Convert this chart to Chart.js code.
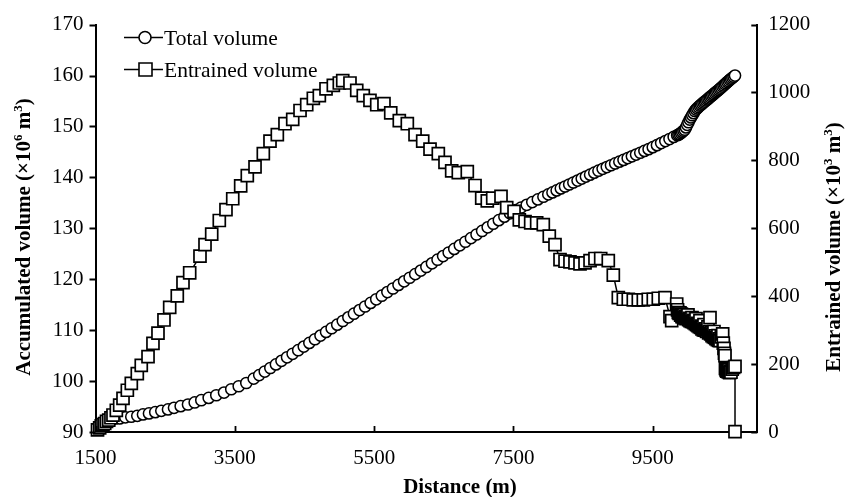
<!DOCTYPE html>
<html><head><meta charset="utf-8">
<script src="https://cdn.jsdelivr.net/npm/chart.js@4/dist/chart.umd.min.js"></script>
<style>html,body{margin:0;padding:0;background:#fff}canvas{display:block}</style>
</head><body>
<canvas id="c" width="845" height="497"></canvas>
<script>
// ---- data ----
const seriesNames = ['Total volume', 'Entrained volume'];
const xTicks = [1500, 3500, 5500, 7500, 9500];
const leftTicks = [90, 100, 110, 120, 130, 140, 150, 160, 170];
const rightTicks = [0, 200, 400, 600, 800, 1000, 1200];

const totalDistance = [1530,1579,1651,1751,1847,1928,2014,2100,2182,2268,2358,2445,2541,2627,2723,2828,2924,3019,3125,3234,3345,3449,3556,3665,3771,3850,3930,4010,4090,4170,4250,4330,4410,4490,4570,4650,4730,4810,4890,4970,5050,5130,5210,5290,5370,5450,5530,5610,5690,5770,5850,5930,6010,6090,6170,6250,6330,6410,6490,6570,6650,6730,6810,6890,6970,7050,7130,7210,7290,7370,7450,7530,7610,7690,7770,7850,7930,8000,8060,8120,8180,8240,8300,8360,8420,8480,8540,8600,8660,8720,8780,8840,8900,8960,9020,9080,9140,9200,9260,9320,9380,9440,9500,9560,9620,9680,9740,9800,9850,9868,9886,9904,9922,9940,9958,9976,9994,10012,10030,10048,10066,10084,10102,10120,10138,10156,10174,10192,10210,10228,10246,10264,10282,10300,10318,10336,10354,10372,10390,10408,10426,10444,10462,10480,10498,10516,10534,10552,10570,10588,10606,10624,10642,10660,10680];
const totalVolume = [90.5,91.3,92.0,92.48,92.67,92.87,92.99,93.18,93.45,93.65,93.90,94.16,94.43,94.74,95.07,95.40,95.80,96.24,96.69,97.22,97.74,98.39,98.98,99.62,100.48,101.17,101.87,102.57,103.27,103.97,104.67,105.36,106.06,106.77,107.49,108.21,108.93,109.65,110.37,111.08,111.80,112.52,113.23,113.94,114.64,115.35,116.06,116.76,117.47,118.18,118.88,119.59,120.29,121.00,121.70,122.41,123.12,123.83,124.54,125.24,125.95,126.66,127.36,128.07,128.78,129.48,130.19,130.89,131.60,132.28,132.95,133.55,134.08,134.61,135.14,135.67,136.20,136.66,137.05,137.44,137.83,138.21,138.60,138.99,139.37,139.76,140.15,140.53,140.92,141.31,141.67,142.02,142.38,142.73,143.08,143.43,143.78,144.13,144.48,144.84,145.19,145.54,145.93,146.33,146.73,147.13,147.53,147.94,148.27,148.39,148.51,148.71,148.93,149.14,149.36,149.81,150.32,150.83,151.35,151.78,152.20,152.61,153.03,153.31,153.56,153.81,154.06,154.27,154.48,154.69,154.89,155.10,155.31,155.51,155.72,155.93,156.13,156.34,156.55,156.75,156.96,157.17,157.38,157.60,157.82,158.04,158.27,158.49,158.71,158.93,159.15,159.35,159.56,159.76,159.99];

const entrainedDistance = [1529,1560,1583,1608,1632,1658,1690,1722,1751,1799,1847,1895,1957,2014,2100,2157,2254,2325,2397,2483,2565,2674,2756,2852,3000,3072,3168,3277,3373,3470,3584,3679,3790,3909,4005,4110,4220,4331,4436,4532,4627,4713,4809,4914,5000,5049,5153,5250,5344,5440,5537,5641,5738,5861,5976,6087,6197,6302,6421,6517,6613,6708,6837,6948,7044,7124,7202,7321,7403,7508,7584,7666,7747,7833,7928,8014,8096,8168,8240,8311,8383,8455,8527,8599,8670,8752,8861,8933,9005,9077,9148,9220,9292,9364,9435,9507,9579,9675,9747,9771,9843,9855,9866,9878,9890,9900,9910,9919,9930,9940,9948,9958,9968,9977,9987,9996,10005,10015,10025,10034,10044,10054,10063,10073,10083,10092,10102,10111,10120,10130,10140,10149,10159,10168,10177,10187,10197,10206,10216,10226,10235,10245,10255,10264,10274,10283,10292,10302,10311,10321,10330,10340,10350,10360,10369,10378,10388,10398,10407,10417,10427,10436,10446,10456,10465,10484,10503,10512,10522,10529,10536,10543,10552,10560,10565,10575,10584,10594,10603,10612,10622,10640,10660,10680,10680];
const entrainedVolume = [6,12,18,22,25,31,35,42,50,64,79,99,123,143,172,196,222,261,291,330,367,401,440,469,518,552,583,623,655,687,725,755,781,820,857,876,908,921,947,964,983,991,1011,1021,1028,1035,1028,1006,991,977,964,967,940,917,908,876,857,833,820,794,769,764,767,726,689,681,689,694,661,650,625,620,616,616,611,577,552,508,503,501,498,495,498,505,511,511,505,462,396,391,391,389,389,389,391,391,394,396,340,328,377,360,352,349,351,344,347,340,343,338,345,336,339,334,340,337,345,331,335,328,333,326,337,325,329,322,327,319,334,316,320,313,318,310,328,308,312,304,309,301,316,300,304,299,296,301,310,292,295,337,289,292,284,288,281,296,279,283,275,278,272,284,270,274,269,280,289,262,246,232,225,187,183,180,179,182,177,184,175,179,176,185,190,193,1];

// ---- presentation ----
const FONT = "'Liberation Serif','Times New Roman',serif";
const INK = '#000';

function drawRich(ctx, segs, size, bold) {
  const w = segs.reduce((a, s) => {
    ctx.font = (bold ? 'bold ' : '') + (s[1] ? size * 0.62 : size) + 'px ' + FONT;
    return a + ctx.measureText(s[0]).width;
  }, 0);
  let x = -w / 2;
  for (const s of segs) {
    const sz = s[1] ? size * 0.62 : size;
    ctx.font = (bold ? 'bold ' : '') + sz + 'px ' + FONT;
    ctx.fillText(s[0], x, s[1] ? -size * 0.38 : 0);
    x += ctx.measureText(s[0]).width;
  }
}

const titleLeft = [['Accumulated volume (\u00d710', 0], ['6', 1], [' m', 0], ['3', 1], [')', 0]];
const titleRight = [['Entrained volume (\u00d710', 0], ['3', 1], [' m', 0], ['3', 1], [')', 0]];
const titleX = [['Distance (m)', 0]];

const decor = {
  id: 'decor',
  afterDraw(chart) {
    const ctx = chart.ctx;
    const a = chart.chartArea;
    const sx = chart.scales.x, sl = chart.scales.yL, sr = chart.scales.yR;
    ctx.save();
    ctx.strokeStyle = INK; ctx.fillStyle = INK; ctx.lineWidth = 1.8;
    // tick marks
    ctx.beginPath();
    leftTicks.forEach(v => { const y = Math.round(sl.getPixelForValue(v)) + 0.5; ctx.moveTo(a.left - 6, y); ctx.lineTo(a.left, y); });
    rightTicks.forEach(v => { const y = Math.round(sr.getPixelForValue(v)) + 0.5; ctx.moveTo(a.right - 6, y); ctx.lineTo(a.right, y); });
    xTicks.forEach(v => { const x = Math.round(sx.getPixelForValue(v)) + 0.5; ctx.moveTo(x, a.bottom - 6); ctx.lineTo(x, a.bottom); });
    ctx.stroke();
    // axis titles
    ctx.textBaseline = 'alphabetic'; ctx.textAlign = 'left';
    ctx.save(); ctx.translate(30, 237); ctx.rotate(-Math.PI / 2); drawRich(ctx, titleLeft, 21, true); ctx.restore();
    ctx.save(); ctx.translate(840, 247); ctx.rotate(-Math.PI / 2); drawRich(ctx, titleRight, 21, true); ctx.restore();
    ctx.save(); ctx.translate(460, 493); drawRich(ctx, titleX, 21, true); ctx.restore();
    // legend
    const rows = [{y: 37.5, shape: 'circle', label: seriesNames[0]}, {y: 69.5, shape: 'rect', label: seriesNames[1]}];
    rows.forEach(r => {
      ctx.lineWidth = 1.6;
      ctx.beginPath(); ctx.moveTo(124, r.y); ctx.lineTo(163, r.y); ctx.stroke();
      ctx.fillStyle = '#fff';
      ctx.beginPath();
      if (r.shape === 'circle') ctx.arc(145, r.y, 6, 0, Math.PI * 2);
      else ctx.rect(139, r.y - 6.5, 13, 13);
      ctx.fill(); ctx.stroke();
      ctx.fillStyle = INK;
      ctx.font = '21.5px ' + FONT;
      ctx.textAlign = 'left';
      ctx.fillText(r.label, 164, r.y + 7);
    });
    ctx.restore();
  }
};

const tickFont = {family: FONT, size: 21};
new Chart(document.getElementById('c').getContext('2d'), {
  type: 'scatter',
  data: {
    datasets: [
      {
        label: seriesNames[1], yAxisID: 'yR', order: 0, clip: false,
        data: entrainedDistance.map((d, i) => ({x: d, y: entrainedVolume[i]})),
        showLine: true, borderColor: INK, borderWidth: 1.5,
        pointStyle: 'rect', pointRadius: 8.5, pointBorderWidth: 1.7,
        pointBackgroundColor: '#fff', pointBorderColor: INK
      },
      {
        label: seriesNames[0], yAxisID: 'yL', order: 1, clip: false,
        data: totalDistance.map((d, i) => ({x: d, y: totalVolume[i]})),
        showLine: true, borderColor: INK, borderWidth: 1.5,
        pointStyle: 'circle', pointRadius: 5.6, pointBorderWidth: 1.5,
        pointBackgroundColor: '#fff', pointBorderColor: INK
      }
    ]
  },
  options: {
    responsive: false, animation: false, devicePixelRatio: 1,
    layout: {padding: {top: 21, left: 0, right: 0, bottom: 0}},
    plugins: {legend: {display: false}, tooltip: {enabled: false}},
    scales: {
      x: {
        type: 'linear', position: 'bottom', min: 1500, max: 11000,
        afterBuildTicks: s => { s.ticks = xTicks.map(v => ({value: v})); },
        afterFit: s => { s.height = 65; },
        grid: {display: false, drawTicks: false}, border: {display: true, color: INK, width: 2},
        ticks: {padding: 14, font: tickFont, color: INK, callback: v => String(v), maxRotation: 0, autoSkip: false}
      },
      yL: {
        type: 'linear', position: 'left', min: 90, max: 170,
        afterBuildTicks: s => { s.ticks = leftTicks.map(v => ({value: v})); },
        afterFit: s => { s.width = 95.5; },
        grid: {display: false, drawTicks: false}, border: {display: true, color: INK, width: 2},
        ticks: {padding: 12, font: tickFont, color: INK, callback: v => String(v)}
      },
      yR: {
        type: 'linear', position: 'right', min: 0, max: 1200,
        afterBuildTicks: s => { s.ticks = rightTicks.map(v => ({value: v})); },
        afterFit: s => { s.width = 87.7; },
        grid: {display: false, drawTicks: false}, border: {display: true, color: INK, width: 2},
        ticks: {padding: 11, font: tickFont, color: INK, callback: v => String(v)}
      }
    }
  },
  plugins: [decor]
});
</script>
</body></html>
